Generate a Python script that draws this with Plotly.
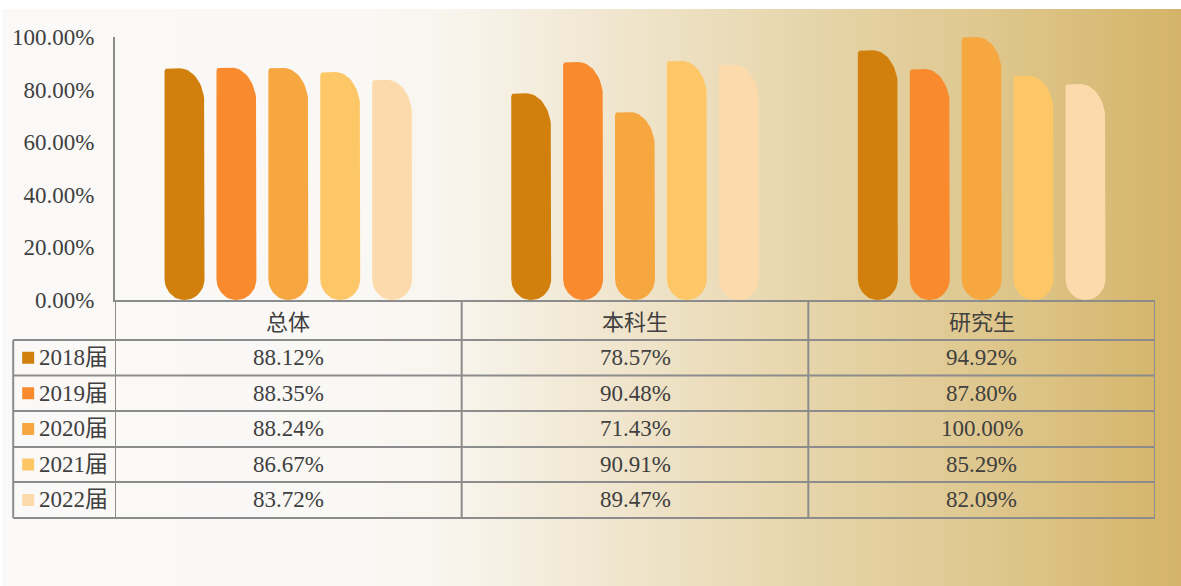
"""就业率对比图 — Plotly 版本（柱形 + 数据表）。"""

import math
import plotly.graph_objects as go

groups = ["总体", "本科生", "研究生"]
years = ["2018届", "2019届", "2020届", "2021届", "2022届"]
rate_2018 = [88.12, 78.57, 94.92]
rate_2019 = [88.35, 90.48, 87.80]
rate_2020 = [88.24, 71.43, 100.00]
rate_2021 = [86.67, 90.91, 85.29]
rate_2022 = [83.72, 89.47, 82.09]
y_ticks = [0, 20, 40, 60, 80, 100]

series = [rate_2018, rate_2019, rate_2020, rate_2021, rate_2022]
colors = ["#D2800D", "#FA8A2E", "#F7A73F", "#FDC767", "#FCDAAB"]

W, H = 1181, 586
L, R, T, B = 113, 26, 37, 286
plot_w = W - L - R
plot_h = H - T - B
ux = len(groups) / plot_w      # x data units per pixel
uy = 100 / plot_h              # y data units per pixel
TEXT = "#404040"
GRID = "#8C8C8C"
SERIF = "Liberation Serif, Noto Sans CJK SC"


def px_x(p):
    return (p - L) / plot_w


def px_y(p):
    return (H - B - p) / plot_h


def bar_outline(cx, value, w=40, rb=21, rtx=25, rty=36, rl=3):
    """圆底、右上大圆角的柱形轮廓（像素几何 -> 数据坐标）。"""
    h = value / uy
    pts = []
    for k in range(25):
        a = math.pi + math.pi * k / 24
        pts.append((w / 2 + w / 2 * math.cos(a), rb + rb * math.sin(a)))
    for k in range(19):
        a = math.pi / 2 * k / 18
        pts.append((w - rtx + rtx * math.cos(a), h - rty + rty * math.sin(a)))
    for k in range(7):
        a = math.pi / 2 + math.pi / 2 * k / 6
        pts.append((rl + rl * math.cos(a), h - rl + rl * math.sin(a)))
    pts.append(pts[0])
    xs = [cx + (p[0] - w / 2) * ux for p in pts]
    ys = [p[1] * uy for p in pts]
    return xs, ys


def lerp_color(stops, p):
    for (p0, c0), (p1, c1) in zip(stops, stops[1:]):
        if p0 <= p <= p1:
            t = (p - p0) / (p1 - p0)
            return "rgb(%d,%d,%d)" % tuple(round(a + (b - a) * t) for a, b in zip(c0, c1))
    return "rgb(%d,%d,%d)" % stops[-1][1]


fig = go.Figure()

slot = 52
for i, (year, vals, col) in enumerate(zip(years, series, colors)):
    for g, v in enumerate(vals):
        xs, ys = bar_outline(g + (i - 2) * slot * ux, v)
        fig.add_trace(go.Scatter(
            x=xs, y=ys, mode="lines", fill="toself", fillcolor=col,
            line=dict(width=0, color=col), name=year, showlegend=False,
            hoveron="fills", text=f"{year} {groups[g]}: {v:.2f}%", hoverinfo="text",
        ))

shapes = []

# 背景渐变
stops = [(0, (250, 249, 247)), (360, (250, 248, 245)), (460, (248, 244, 236)),
         (600, (241, 231, 209)), (800, (231, 214, 172)), (1000, (222, 198, 140)),
         (1181, (212, 180, 104))]
step = 8
for p in range(0, W, step):
    shapes.append(dict(
        type="rect", xref="paper", yref="paper", layer="below",
        x0=px_x(p), x1=px_x(p + step + 1), y0=px_y(H), y1=px_y(9),
        fillcolor=lerp_color(stops, p + step / 2), line=dict(width=0),
    ))

# 数据表网格
row_edges = [300, 340, 375.5, 411, 447, 482, 518]
line = dict(color=GRID, width=2)
for yy in row_edges[1:]:
    shapes.append(dict(type="line", xref="paper", yref="paper",
                       x0=px_x(11), x1=px_x(L + plot_w), y0=px_y(yy), y1=px_y(yy), line=line))
for xx in [-0.5, 0.5, 1.5, 2.5]:
    shapes.append(dict(type="line", xref="x", yref="paper",
                       x0=xx, x1=xx, y0=px_y(row_edges[0]), y1=px_y(row_edges[-1]), line=line))
shapes.append(dict(type="line", xref="paper", yref="paper",
                   x0=px_x(11), x1=px_x(11), y0=px_y(row_edges[1]), y1=px_y(row_edges[-1]), line=line))

annotations = []
hdr_y = px_y((row_edges[0] + row_edges[1]) / 2)
for g, name in enumerate(groups):
    annotations.append(dict(xref="x", yref="paper", x=g, y=hdr_y, text=name, showarrow=False,
                            xanchor="center", yanchor="middle",
                            font=dict(family="Noto Sans CJK SC", size=22, color=TEXT)))

for i, (year, vals, col) in enumerate(zip(years, series, colors)):
    yc = (row_edges[i + 1] + row_edges[i + 2]) / 2
    shapes.append(dict(type="rect", xref="paper", yref="paper",
                       x0=px_x(20), x1=px_x(32), y0=px_y(yc + 6), y1=px_y(yc - 6),
                       fillcolor=col, line=dict(width=0)))
    annotations.append(dict(xref="paper", yref="paper", x=px_x(35), y=px_y(yc), text=year,
                            xanchor="left", yanchor="middle", showarrow=False,
                            font=dict(family=SERIF, size=23, color=TEXT)))
    for g, v in enumerate(vals):
        annotations.append(dict(xref="x", yref="paper", x=g, y=px_y(yc), text=f"{v:.2f}%",
                                xanchor="center", yanchor="middle", showarrow=False,
                                font=dict(family=SERIF, size=23, color=TEXT)))

fig.update_layout(
    width=W, height=H,
    margin=dict(l=L, r=R, t=T, b=B),
    paper_bgcolor="#FFFFFF",
    plot_bgcolor="rgba(0,0,0,0)",
    shapes=shapes,
    annotations=annotations,
    showlegend=False,
    xaxis=dict(range=[-0.5, 2.5], showticklabels=False, showgrid=False, zeroline=False,
               showline=True, linecolor=GRID, linewidth=2, fixedrange=True),
    yaxis=dict(range=[0, 100], tickvals=y_ticks, ticktext=[f"{v:.2f}%" for v in y_ticks],
               showgrid=False, zeroline=False, showline=True, linecolor=GRID, linewidth=2,
               ticks="", ticklabelstandoff=14, fixedrange=True,
               tickfont=dict(family=SERIF, size=23, color=TEXT)),
)

fig.write_html("out.html", config={"displayModeBar": False},
               post_script="document.body.style.margin = '0';")
